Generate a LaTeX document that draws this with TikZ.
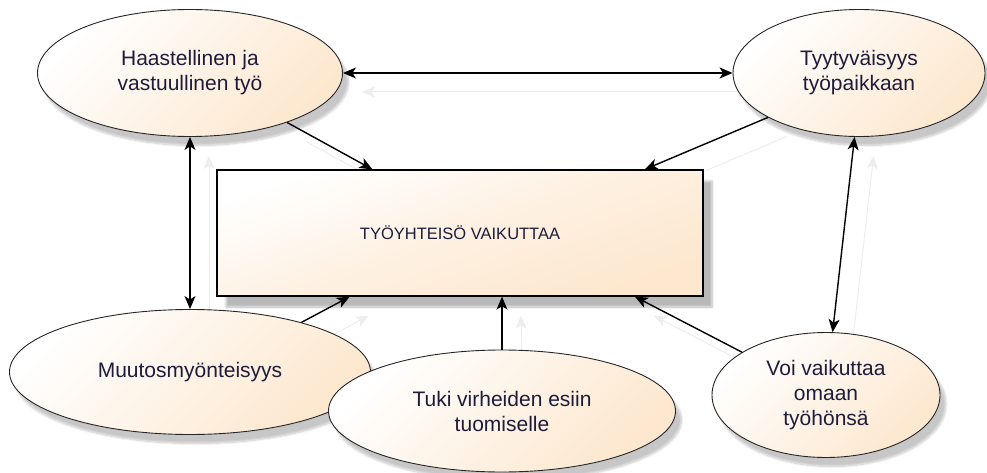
\documentclass[tikz,border=0pt]{standalone}
\usepackage{fontspec}
\setmainfont{Liberation Sans}
\usepackage{tikz}
\usetikzlibrary{arrows.meta,shapes.geometric,shadows.blur,backgrounds}

\definecolor{peach}{RGB}{253,231,206}
\definecolor{inktext}{RGB}{30,28,60}

% the connectors, drawn once as a faint shadow and once for real
\newcommand{\linkset}{%
	\path
	(hv.east) edge[<->] (tp.west)
	(hv.south) edge[<->] (mm.north)
	(tp.-94) edge[<->] (vo.84)
	(hv.-27) edge (tv.144)
	(tp.206) edge (tv.19)
	(mm.24) edge (tv.-150)
	(tk.north) edge (tk.north |- tv.south)
	(vo.153) edge (tv.-20);}

\begin{document}
\begin{tikzpicture}[x=1pt,y=-1pt,->,>={Stealth[length=13pt,width=11pt,inset=3.5pt]},line width=1.4pt,
	bubble/.style={ellipse,draw=black!85,line width=0.9pt,inner sep=0pt,align=center,text=inktext,
		top color=white,bottom color=peach,middle color=peach!50,shading angle=45,
		blur shadow={shadow xshift=6pt,shadow yshift=-9pt,shadow opacity=22,shadow blur steps=8},
		font=\fontsize{21}{25}\selectfont},
	core/.style={rectangle,draw=black,line width=1.3pt,inner sep=0pt,text=inktext,
		top color=white,bottom color=peach,middle color=peach!60,shading angle=20,
		blur shadow={shadow xshift=9pt,shadow yshift=-11pt,shadow opacity=28,shadow blur steps=8},
		font=\fontsize{16.5}{19}\selectfont}]
	\useasboundingbox (0,0) rectangle (987,473);

	\node [bubble,minimum width=305pt,minimum height=127pt] at (190,73) (hv) {Haastellinen ja\\vastuullinen työ};
	\node [bubble,minimum width=252pt,minimum height=127pt] at (859,73) (tp) {Tyytyväisyys\\työpaikkaan};
	\node [core,minimum width=486pt,minimum height=126pt] at (460,233) (tv) {TYÖYHTEISÖ VAIKUTTAA};
	\node [bubble,minimum width=361pt,minimum height=125pt] at (190,372) (mm) {Muutosmyönteisyys};
	\node [bubble,minimum width=347pt,minimum height=122pt] at (502,411) (tk) {Tuki virheiden esiin\\tuomiselle};
	\node [bubble,minimum width=228pt,minimum height=125pt] at (826,395) (vo) {Voi vaikuttaa\\omaan\\työhönsä};

	\begin{scope}[on background layer]
		\begin{scope}[transform canvas={shift={(19,19)}},black!7,line width=1pt]
			\linkset
		\end{scope}
	\end{scope}
	\linkset
\end{tikzpicture}
\end{document}
